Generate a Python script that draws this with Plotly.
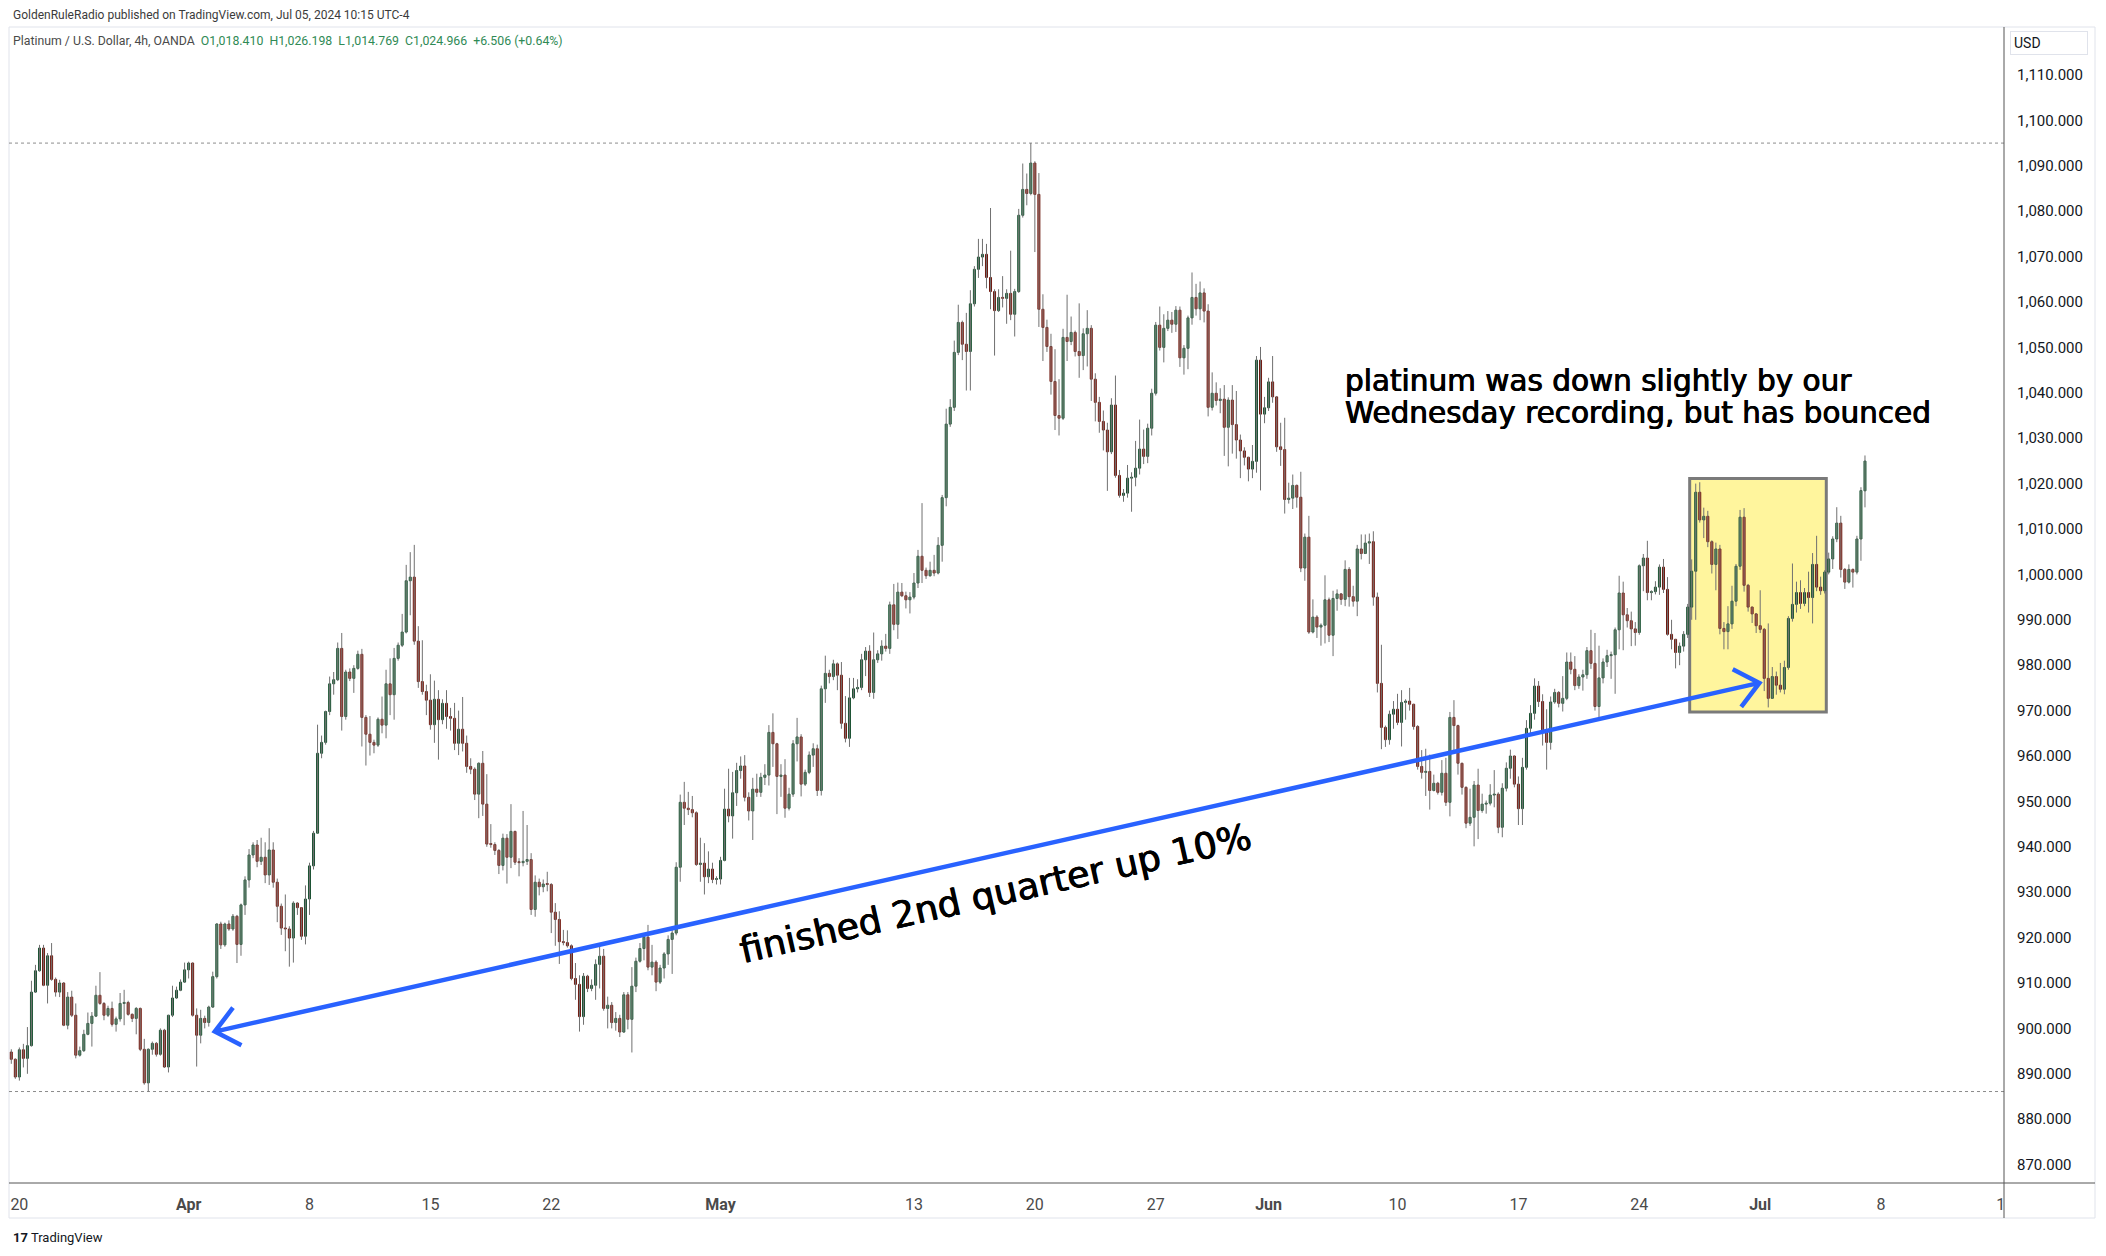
import math
import plotly.graph_objects as go

# ---------------- data (4h candles) ----------------
opens = [
    894.8, 893.2, 889.3, 895.3, 893.4, 896.2, 908.0, 912.7, 917.7, 909.5,
    916.0, 910.8, 908.0, 910.0, 900.7, 906.9, 902.9, 894.1, 895.1, 898.7,
    901.1, 902.7, 907.3, 905.5, 902.9, 904.4, 900.9, 902.1, 905.5, 905.7,
    903.1, 902.2, 904.4, 895.4, 888.0, 895.4, 896.7, 894.3, 899.6, 891.5,
    902.9, 906.7, 908.4, 910.2, 912.9, 914.4, 902.9, 898.5, 902.2, 901.3,
    904.7, 911.4, 923.0, 918.4, 923.0, 921.9, 924.7, 918.5, 927.2, 932.7,
    938.2, 940.4, 936.8, 937.7, 933.8, 939.3, 932.2, 926.9, 922.1, 921.9,
    919.9, 927.6, 926.6, 920.3, 928.5, 935.8, 943.0, 960.6, 963.0, 969.8,
    975.9, 976.8, 983.7, 968.7, 978.5, 977.1, 979.3, 982.4, 968.5, 964.8,
    963.0, 962.4, 968.1, 966.8, 975.9, 973.5, 981.5, 984.4, 987.3, 998.6,
    999.4, 985.3, 976.4, 974.2, 972.3, 966.9, 972.5, 968.0, 971.6, 968.7,
    968.3, 962.8, 965.9, 962.8, 957.7, 957.1, 951.6, 958.4, 949.4, 940.6,
    940.5, 939.2, 935.9, 941.9, 937.7, 943.4, 936.6, 936.5, 936.8, 937.2,
    926.2, 932.2, 931.2, 931.8, 931.7, 925.6, 924.0, 919.1, 918.9, 918.2,
    911.0, 909.7, 902.6, 911.5, 908.8, 909.5, 914.1, 915.9, 904.4, 905.1,
    901.3, 902.2, 899.2, 907.4, 902.0, 909.3, 914.8, 917.6, 920.1, 913.5,
    914.6, 910.2, 913.3, 916.4, 919.6, 921.0, 935.5, 949.8, 948.5, 948.2,
    947.5, 936.1, 936.4, 933.4, 935.1, 932.8, 932.9, 937.0, 948.3, 946.8,
    951.9, 956.8, 957.8, 950.9, 947.9, 952.7, 952.0, 955.3, 955.8, 965.2,
    962.7, 955.5, 955.8, 948.5, 951.6, 962.7, 964.2, 953.8, 956.4, 960.2,
    961.6, 952.4, 974.8, 978.2, 977.5, 980.3, 977.8, 967.2, 963.9, 972.8,
    974.8, 975.1, 981.2, 983.1, 974.0, 981.2, 982.5, 984.2, 983.7, 993.3,
    989.0, 996.1, 995.3, 994.4, 995.0, 998.1, 1004.0, 1000.9, 999.7, 1000.9,
    1000.3, 1006.4, 1016.9, 1033.1, 1036.8, 1048.9, 1055.5, 1050.7, 1049.1, 1059.6,
    1067.2, 1069.9, 1070.5, 1065.4, 1062.3, 1058.1, 1061.0, 1060.8, 1061.9, 1057.3,
    1062.3, 1079.1, 1084.8, 1083.9, 1090.6, 1083.7, 1058.4, 1054.4, 1050.2, 1042.5,
    1035.0, 1034.4, 1052.2, 1051.3, 1053.3, 1049.1, 1048.2, 1053.0, 1054.2, 1043.0,
    1037.9, 1033.7, 1031.8, 1027.0, 1037.3, 1021.8, 1017.4, 1017.9, 1021.2, 1021.4,
    1023.4, 1027.6, 1026.0, 1032.2, 1039.9, 1054.9, 1050.0, 1054.2, 1056.0, 1055.1,
    1058.2, 1047.7, 1049.8, 1056.5, 1061.0, 1058.5, 1062.0, 1058.0, 1036.8, 1039.9,
    1038.3, 1038.6, 1032.4, 1038.4, 1033.0, 1029.6, 1027.2, 1025.8, 1023.2, 1024.9,
    1047.2, 1035.3, 1036.7, 1042.4, 1039.1, 1028.1, 1027.5, 1016.5, 1016.8, 1019.6,
    1017.0, 1001.4, 1008.2, 987.3, 990.6, 988.4, 988.8, 994.4, 986.6, 994.7,
    995.7, 994.5, 1001.1, 995.1, 994.1, 1005.6, 1004.6, 1006.9, 1007.2, 995.0,
    976.0, 966.3, 963.6, 969.2, 970.3, 967.4, 971.8, 972.1, 971.4, 966.5,
    957.7, 956.4, 956.6, 952.4, 954.0, 952.0, 956.2, 949.8, 968.5, 966.7,
    958.4, 953.1, 945.2, 946.5, 953.6, 948.0, 949.4, 949.6, 951.4, 951.6,
    944.3, 952.9, 957.3, 960.0, 953.8, 948.4, 957.5, 966.1, 969.4, 975.4,
    972.0, 965.6, 963.0, 971.9, 974.0, 971.6, 972.7, 980.7, 979.1, 975.5,
    977.4, 977.9, 983.2, 980.4, 970.9, 977.2, 980.7, 982.1, 982.3, 987.8,
    995.9, 991.1, 989.8, 988.0, 987.2, 1001.9, 1003.6, 996.0, 996.2, 997.2,
    1001.6, 996.7, 986.8, 985.7, 982.8, 984.2, 986.8, 992.8, 1000.7, 1018.1,
    1012.0, 1012.8, 1007.2, 1002.2, 1005.6, 988.1, 987.4, 989.1, 994.1, 1001.8,
    1012.6, 997.6, 992.8, 991.3, 988.7, 987.9, 977.1, 972.7, 977.5, 975.6,
    974.7, 979.5, 990.3, 993.4, 996.0, 993.6, 996.0, 994.9, 1002.2, 997.2,
    996.4, 1000.5, 1003.4, 1007.8, 1011.3, 1001.1, 998.3, 1001.1, 1000.5, 1007.8,
    1018.410,
]
highs = [
    895.4, 893.4, 895.8, 896.6, 900.3, 910.5, 914.0, 918.4, 918.4, 916.6,
    918.8, 911.2, 910.7, 910.2, 908.0, 908.3, 905.5, 896.0, 899.7, 903.5,
    903.6, 909.4, 912.4, 905.8, 905.0, 905.9, 902.6, 907.8, 908.5, 906.1,
    903.3, 904.7, 904.6, 897.7, 895.6, 897.1, 897.0, 900.0, 899.9, 903.0,
    909.4, 909.2, 910.8, 914.5, 914.7, 914.5, 904.4, 904.1, 902.8, 905.0,
    912.5, 923.2, 923.5, 923.3, 923.8, 925.2, 925.0, 927.5, 933.5, 939.5,
    941.0, 941.5, 942.0, 941.0, 944.1, 941.0, 933.0, 927.5, 929.5, 922.5,
    928.0, 927.8, 926.7, 931.5, 936.5, 943.5, 966.9, 964.5, 970.0, 977.5,
    978.5, 985.0, 987.1, 979.0, 979.3, 980.0, 983.2, 983.6, 969.0, 968.8,
    963.6, 968.5, 973.1, 979.0, 981.5, 983.8, 985.0, 991.3, 1002.1, 1004.9,
    1006.5, 988.6, 985.5, 975.7, 978.0, 976.6, 974.5, 972.5, 974.5, 970.6,
    971.7, 970.0, 973.0, 964.5, 959.5, 957.5, 958.6, 961.1, 956.0, 945.0,
    941.0, 939.5, 942.9, 942.8, 949.4, 943.5, 937.5, 947.9, 944.8, 938.6,
    933.7, 933.0, 932.8, 934.5, 932.0, 927.6, 925.8, 921.7, 921.6, 918.5,
    914.4, 911.7, 912.2, 911.8, 910.8, 915.2, 918.5, 917.5, 907.0, 905.8,
    903.6, 903.0, 908.0, 908.0, 913.5, 915.6, 918.8, 920.6, 922.8, 918.4,
    915.0, 914.0, 916.8, 920.5, 922.0, 936.6, 951.5, 954.3, 952.1, 951.2,
    947.8, 942.0, 940.8, 939.0, 936.5, 933.5, 937.8, 952.8, 957.2, 956.5,
    958.5, 959.9, 960.2, 952.0, 955.2, 956.1, 956.3, 958.2, 966.8, 969.4,
    962.9, 958.2, 959.3, 953.0, 963.5, 968.4, 964.8, 957.0, 961.0, 962.8,
    962.5, 975.5, 982.1, 979.0, 981.2, 980.6, 980.7, 973.2, 977.2, 977.2,
    976.9, 982.5, 984.0, 984.4, 987.2, 983.3, 985.5, 986.9, 994.0, 997.9,
    998.2, 998.1, 996.2, 996.1, 1000.3, 1005.4, 1015.7, 1001.5, 1002.8, 1004.3,
    1008.2, 1017.5, 1036.5, 1038.6, 1051.5, 1059.4, 1055.9, 1057.6, 1062.6, 1067.9,
    1073.9, 1073.9, 1072.8, 1080.7, 1062.8, 1062.8, 1065.7, 1062.8, 1071.3, 1062.9,
    1080.5, 1090.5, 1088.3, 1095.0, 1091.0, 1088.4, 1061.7, 1056.1, 1053.0, 1049.6,
    1043.0, 1054.1, 1061.6, 1056.8, 1053.7, 1059.7, 1054.2, 1058.2, 1054.9, 1044.3,
    1039.1, 1036.1, 1033.4, 1038.8, 1043.8, 1023.0, 1018.8, 1024.1, 1022.5, 1029.4,
    1034.1, 1031.9, 1033.2, 1040.9, 1055.6, 1059.0, 1057.3, 1058.0, 1057.8, 1059.1,
    1059.0, 1050.5, 1057.0, 1066.5, 1064.0, 1064.5, 1063.0, 1059.5, 1044.5, 1042.3,
    1041.0, 1041.7, 1039.0, 1041.7, 1040.4, 1030.8, 1028.0, 1025.9, 1028.5, 1048.1,
    1050.1, 1039.1, 1043.3, 1048.1, 1039.3, 1033.4, 1034.5, 1020.2, 1022.0, 1019.8,
    1022.6, 1009.0, 1012.9, 994.5, 991.0, 989.2, 999.8, 994.9, 996.4, 996.7,
    995.9, 1003.1, 1001.6, 997.5, 1006.5, 1008.8, 1008.8, 1009.0, 1009.5, 996.0,
    984.5, 966.7, 970.0, 972.1, 973.7, 974.5, 972.5, 975.0, 971.5, 966.8,
    961.3, 961.6, 960.3, 955.9, 954.3, 959.1, 959.6, 969.7, 972.3, 966.9,
    958.5, 953.3, 952.8, 954.5, 957.2, 951.7, 950.2, 953.8, 956.9, 952.0,
    954.0, 958.6, 961.4, 960.1, 955.5, 959.6, 967.9, 971.2, 977.1, 976.5,
    973.6, 970.3, 973.1, 974.8, 974.3, 977.6, 982.8, 982.8, 982.0, 978.0,
    979.0, 984.0, 987.8, 987.1, 984.3, 981.5, 983.4, 983.0, 988.3, 999.7,
    998.4, 992.6, 991.8, 989.5, 1002.2, 1004.5, 1007.4, 996.5, 998.5, 1002.2,
    1003.4, 999.4, 990.0, 985.8, 985.0, 987.5, 993.5, 1003.3, 1020.0, 1020.3,
    1014.7, 1014.0, 1007.5, 1007.0, 1006.5, 989.5, 993.0, 997.5, 1002.3, 1014.2,
    1014.6, 997.9, 992.9, 991.5, 996.5, 988.2, 989.2, 979.6, 978.6, 980.5,
    981.0, 990.8, 1002.4, 998.4, 998.7, 997.0, 1000.6, 1004.7, 1008.5, 999.5,
    1000.9, 1004.8, 1008.4, 1014.8, 1012.9, 1001.4, 1002.2, 1001.3, 1008.5, 1019.2,
    1026.198,
]
lows = [
    892.2, 888.9, 888.5, 891.4, 890.0, 896.0, 907.8, 912.5, 909.3, 905.5,
    910.5, 907.0, 906.9, 900.5, 899.8, 902.5, 893.4, 893.8, 894.8, 898.5,
    896.0, 902.5, 905.2, 901.8, 902.5, 900.4, 899.3, 901.5, 900.7, 902.8,
    901.4, 898.7, 895.0, 887.6, 886.1, 894.2, 893.8, 894.0, 891.3, 890.3,
    902.5, 906.5, 908.2, 910.0, 911.0, 902.6, 891.6, 896.7, 900.0, 900.4,
    904.5, 911.0, 917.5, 918.0, 921.5, 921.5, 914.4, 916.0, 925.0, 931.0,
    937.5, 935.5, 936.0, 932.0, 931.6, 931.0, 923.4, 920.6, 917.0, 913.6,
    914.5, 925.0, 919.5, 918.5, 925.0, 935.0, 943.0, 959.5, 962.5, 969.0,
    973.5, 976.5, 965.6, 968.0, 976.5, 973.9, 979.0, 962.1, 957.9, 960.1,
    960.6, 962.0, 965.0, 963.9, 969.0, 968.0, 981.0, 984.0, 987.0, 991.0,
    984.5, 975.0, 973.5, 969.0, 965.8, 962.9, 959.2, 967.0, 966.0, 965.6,
    961.3, 960.2, 961.0, 956.3, 956.0, 950.3, 946.3, 946.8, 940.0, 939.8,
    938.2, 934.0, 934.8, 931.9, 935.3, 936.0, 933.5, 935.7, 936.0, 925.0,
    924.6, 929.3, 930.0, 930.2, 921.0, 918.2, 914.2, 918.3, 917.8, 910.6,
    906.3, 899.3, 900.8, 908.0, 908.2, 906.3, 908.8, 903.9, 900.0, 900.0,
    899.5, 898.1, 899.0, 899.8, 894.7, 908.0, 914.5, 915.0, 912.8, 911.7,
    908.2, 909.8, 911.0, 914.0, 912.0, 920.5, 932.3, 944.8, 947.0, 946.5,
    935.8, 932.3, 929.5, 932.0, 932.0, 931.7, 931.7, 936.8, 945.4, 941.8,
    949.0, 955.0, 950.0, 945.8, 941.5, 951.0, 951.0, 953.6, 953.5, 957.6,
    947.2, 951.0, 946.4, 948.0, 951.0, 958.8, 951.1, 953.4, 956.0, 957.6,
    951.2, 951.3, 971.7, 976.0, 976.7, 974.5, 966.0, 963.0, 962.0, 972.5,
    974.0, 974.5, 977.6, 973.0, 972.6, 980.5, 981.0, 983.0, 982.5, 987.7,
    985.8, 995.0, 992.5, 991.4, 994.5, 997.0, 998.1, 999.0, 999.5, 999.6,
    1000.0, 1002.8, 1015.0, 1032.5, 1036.0, 1048.3, 1047.2, 1040.5, 1040.5, 1059.0,
    1065.3, 1067.9, 1063.0, 1058.4, 1048.2, 1057.8, 1058.8, 1055.2, 1056.0, 1052.4,
    1062.0, 1078.6, 1081.3, 1083.5, 1071.0, 1054.5, 1047.0, 1049.0, 1039.6, 1031.8,
    1030.6, 1034.0, 1047.0, 1050.5, 1048.0, 1043.3, 1045.0, 1045.8, 1038.2, 1033.7,
    1031.2, 1027.3, 1018.4, 1026.5, 1021.3, 1016.9, 1016.0, 1016.9, 1013.8, 1019.4,
    1022.0, 1024.3, 1024.5, 1030.6, 1039.4, 1049.3, 1046.7, 1053.6, 1053.2, 1053.4,
    1045.7, 1044.0, 1045.2, 1055.0, 1057.0, 1056.0, 1055.5, 1034.8, 1036.1, 1037.2,
    1035.5, 1026.1, 1023.8, 1026.6, 1025.5, 1021.2, 1024.0, 1020.5, 1021.2, 1022.4,
    1018.5, 1033.3, 1036.0, 1037.8, 1027.0, 1023.9, 1013.4, 1015.6, 1014.4, 1014.7,
    1000.5, 998.6, 986.9, 987.0, 986.0, 984.3, 984.8, 985.1, 982.0, 992.0,
    993.3, 993.0, 992.9, 992.9, 990.8, 1003.3, 1004.5, 1002.3, 993.1, 974.0,
    961.5, 962.0, 962.5, 966.0, 966.8, 962.1, 968.0, 970.0, 965.8, 957.0,
    955.0, 951.2, 948.2, 952.2, 951.5, 951.3, 949.0, 946.7, 961.2, 955.9,
    951.5, 944.1, 944.6, 940.1, 941.7, 947.5, 947.3, 949.1, 948.7, 943.0,
    942.1, 952.2, 955.0, 953.1, 944.8, 944.8, 957.0, 965.0, 968.0, 970.8,
    962.3, 957.0, 961.4, 971.5, 970.7, 969.8, 972.3, 978.0, 974.5, 974.8,
    974.4, 977.0, 979.2, 970.0, 967.8, 976.0, 979.6, 977.0, 973.7, 983.5,
    983.3, 988.3, 984.2, 984.3, 986.7, 996.3, 994.3, 994.3, 995.6, 995.5,
    995.9, 986.5, 983.5, 979.3, 980.0, 983.0, 986.0, 990.0, 990.0, 1011.4,
    1008.0, 1006.0, 1000.2, 996.5, 986.8, 983.5, 983.5, 988.0, 993.0, 1001.0,
    996.2, 991.8, 989.3, 987.1, 987.1, 974.3, 970.7, 972.6, 973.5, 974.0,
    973.6, 979.0, 989.6, 991.6, 992.4, 993.0, 991.6, 989.2, 996.3, 995.5,
    995.8, 1000.0, 1001.2, 1007.1, 999.3, 996.8, 998.0, 997.1, 1000.0, 1003.0,
    1014.769,
]
closes = [
    893.2, 889.3, 895.3, 893.4, 896.2, 908.0, 912.7, 917.7, 909.5, 916.0,
    910.8, 908.0, 910.0, 900.7, 906.9, 902.9, 894.1, 895.1, 898.7, 901.1,
    902.7, 907.3, 905.5, 902.9, 904.4, 900.9, 902.1, 905.5, 905.7, 903.1,
    902.2, 904.4, 895.4, 888.0, 895.4, 896.7, 894.3, 899.6, 891.5, 902.9,
    906.7, 908.4, 910.2, 912.9, 914.4, 902.9, 898.5, 902.2, 901.3, 904.7,
    911.4, 923.0, 918.4, 923.0, 921.9, 924.7, 918.5, 927.2, 932.7, 938.2,
    940.4, 936.8, 937.7, 933.8, 939.3, 932.2, 926.9, 922.1, 921.9, 919.9,
    927.6, 926.6, 920.3, 928.5, 935.8, 943.0, 960.6, 963.0, 969.8, 975.9,
    976.8, 983.7, 968.7, 978.5, 977.1, 979.3, 982.4, 968.5, 964.8, 963.0,
    962.4, 968.1, 966.8, 975.9, 973.5, 981.5, 984.4, 987.3, 998.6, 999.4,
    985.3, 976.4, 974.2, 972.3, 966.9, 972.5, 968.0, 971.6, 968.7, 968.3,
    962.8, 965.9, 962.8, 957.7, 957.1, 951.6, 958.4, 949.4, 940.6, 940.5,
    939.2, 935.9, 941.9, 937.7, 943.4, 936.6, 936.5, 936.8, 937.2, 926.2,
    932.2, 931.2, 931.8, 931.7, 925.6, 924.0, 919.1, 918.9, 918.2, 911.0,
    909.7, 902.6, 911.5, 908.8, 909.5, 914.1, 915.9, 904.4, 905.1, 901.3,
    902.2, 899.2, 907.4, 902.0, 909.3, 914.8, 917.6, 920.1, 913.5, 914.6,
    910.2, 913.3, 916.4, 919.6, 921.0, 935.5, 949.8, 948.5, 948.2, 947.5,
    936.1, 936.4, 933.4, 935.1, 932.8, 932.9, 937.0, 948.3, 946.8, 951.9,
    956.8, 957.8, 950.9, 947.9, 952.7, 952.0, 955.3, 955.8, 965.2, 962.7,
    955.5, 955.8, 948.5, 951.6, 962.7, 964.2, 953.8, 956.4, 960.2, 961.6,
    952.4, 974.8, 978.2, 977.5, 980.3, 977.8, 967.2, 963.9, 972.8, 974.8,
    975.1, 981.2, 983.1, 974.0, 981.2, 982.5, 984.2, 983.7, 993.3, 989.0,
    996.1, 995.3, 994.4, 995.0, 998.1, 1004.0, 1000.9, 999.7, 1000.9, 1000.3,
    1006.4, 1016.9, 1033.1, 1036.8, 1048.9, 1055.5, 1050.7, 1049.1, 1059.6, 1067.2,
    1069.9, 1070.5, 1065.4, 1062.3, 1058.1, 1061.0, 1060.8, 1061.9, 1057.3, 1062.3,
    1079.1, 1084.8, 1083.9, 1090.6, 1083.7, 1058.4, 1054.4, 1050.2, 1042.5, 1035.0,
    1034.4, 1052.2, 1051.3, 1053.3, 1049.1, 1048.2, 1053.0, 1054.2, 1043.0, 1037.9,
    1033.7, 1031.8, 1027.0, 1037.3, 1021.8, 1017.4, 1017.9, 1021.2, 1021.4, 1023.4,
    1027.6, 1026.0, 1032.2, 1039.9, 1054.9, 1050.0, 1054.2, 1056.0, 1055.1, 1058.2,
    1047.7, 1049.8, 1056.5, 1061.0, 1058.5, 1062.0, 1058.0, 1036.8, 1039.9, 1038.3,
    1038.6, 1032.4, 1038.4, 1033.0, 1029.6, 1027.2, 1025.8, 1023.2, 1024.9, 1047.2,
    1035.3, 1036.7, 1042.4, 1039.1, 1028.1, 1027.5, 1016.5, 1016.8, 1019.6, 1017.0,
    1001.4, 1008.2, 987.3, 990.6, 988.4, 988.8, 994.4, 986.6, 994.7, 995.7,
    994.5, 1001.1, 995.1, 994.1, 1005.6, 1004.6, 1006.9, 1007.2, 995.0, 976.0,
    966.3, 963.6, 969.2, 970.3, 967.4, 971.8, 972.1, 971.4, 966.5, 957.7,
    956.4, 956.6, 952.4, 954.0, 952.0, 956.2, 949.8, 968.5, 966.7, 958.4,
    953.1, 945.2, 946.5, 953.6, 948.0, 949.4, 949.6, 951.4, 951.6, 944.3,
    952.9, 957.3, 960.0, 953.8, 948.4, 957.5, 966.1, 969.4, 975.4, 972.0,
    965.6, 963.0, 971.9, 974.0, 971.6, 972.7, 980.7, 979.1, 975.5, 977.4,
    977.9, 983.2, 980.4, 970.9, 977.2, 980.7, 982.1, 982.3, 987.8, 995.9,
    991.1, 989.8, 988.0, 987.2, 1001.9, 1003.6, 996.0, 996.2, 997.2, 1001.6,
    996.7, 986.8, 985.7, 982.8, 984.2, 986.8, 992.8, 1000.7, 1018.1, 1012.0,
    1012.8, 1007.2, 1002.2, 1005.6, 988.1, 987.4, 989.1, 994.1, 1001.8, 1012.6,
    997.6, 992.8, 991.3, 988.7, 987.9, 977.1, 972.7, 977.5, 975.6, 974.7,
    979.5, 990.3, 993.4, 996.0, 993.6, 996.0, 994.9, 1002.2, 997.2, 996.4,
    1000.5, 1003.4, 1007.8, 1011.3, 1001.1, 998.3, 1001.1, 1000.5, 1007.8, 1018.46,
    1024.966,
]
candle_idx = list(range(len(closes)))

# x-axis day labels (candle index where the label sits)
tick_pos = [2, 44, 74, 104, 134, 176, 224, 254, 284, 312, 344, 374, 404, 434, 464, 493.7]
tick_labels = ["20", "<b>Apr</b>", "8", "15", "22", "<b>May</b>", "13", "20", "27",
               "<b>Jun</b>", "10", "17", "24", "<b>Jul</b>", "8", "1"]
price_ticks = [870, 880, 890, 900, 910, 920, 930, 940, 950, 960, 970, 980, 990, 1000,
               1010, 1020, 1030, 1040, 1050, 1060, 1070, 1080, 1090, 1100, 1110]

# drawings (data coordinates: candle index, price)
arrow_left_tip = (50.5, 899.3)
arrow_right_tip = (433.8, 976.1)
box_x = (416.5, 450.4)
box_y = (969.7, 1021.1)
note_top_lines = ["platinum was down slightly by our", "Wednesday recording, but has bounced"]
note_top_x = 330.4
note_top_y = [1042.6, 1035.5]
note_line = "finished 2nd quarter up 10%"
note_line_pos = (244.2, 929.8)

header_text = "GoldenRuleRadio published on TradingView.com, Jul 05, 2024 10:15 UTC-4"
symbol_text = "Platinum / U.S. Dollar, 4h, OANDA"

# ---------------- layout geometry ----------------
W, H = 2106, 1256
ML, MR, MT, MB = 9, 102, 27, 73
PW, PH = W - ML - MR, H - MT - MB
X_RANGE = [-0.57, 494.5]
Y_RANGE = [865.95, 1120.57]
SX = PW / (X_RANGE[1] - X_RANGE[0])
SY = PH / (Y_RANGE[1] - Y_RANGE[0])


def xp(px):
    return (px - ML) / PW


def yp(py):
    return (H - MB - py) / PH


GREEN_FILL, GREEN_EDGE = "#4a9a68", "#1d5234"
RED_FILL, RED_EDGE = "#cf3a2a", "#6e1b12"
WICK = "#707070"
BLUE = "#2962ff"
UI_FONT = "Roboto"
NOTE_SHADOW = "0.45px 0 0 #000, -0.45px 0 0 #000"

fig = go.Figure()

# wicks
wx, wy = [], []
for i, h, l in zip(candle_idx, highs, lows):
    wx += [i, i, None]
    wy += [l, h, None]
fig.add_trace(go.Scatter(x=wx, y=wy, mode="lines", line=dict(color=WICK, width=1),
                         hoverinfo="skip", showlegend=False))

# bodies
base = [min(o, c) for o, c in zip(opens, closes)]
body = [max(abs(c - o), 0.22) for o, c in zip(opens, closes)]
up = [c >= o for o, c in zip(opens, closes)]
fig.add_trace(go.Bar(
    x=candle_idx, y=body, base=base, width=0.5,
    marker=dict(color=[GREEN_FILL if u else RED_FILL for u in up],
                line=dict(color=[GREEN_EDGE if u else RED_EDGE for u in up], width=1)),
    hoverinfo="skip", showlegend=False))

shapes = []
# pane frame
shapes.append(dict(type="rect", xref="paper", yref="paper", x0=xp(ML), x1=xp(2095),
                   y0=yp(1218), y1=yp(MT), line=dict(color="#e0e3eb", width=1), layer="below"))
# axis lines
shapes.append(dict(type="line", xref="paper", yref="paper", x0=xp(ML), x1=xp(2095),
                   y0=0, y1=0, line=dict(color="#555555", width=1)))
shapes.append(dict(type="line", xref="paper", yref="paper", x0=1, x1=1,
                   y0=yp(1218), y1=yp(MT), line=dict(color="#555555", width=1)))
# dotted high / low lines
for lvl in (max(highs), min(lows)):
    shapes.append(dict(type="line", xref="paper", yref="y", x0=0, x1=1, y0=lvl, y1=lvl,
                       line=dict(color="#8c8c8c", width=1, dash="dot"), layer="below"))
# highlighted box
shapes.append(dict(type="rect", xref="x", yref="y", x0=box_x[0], x1=box_x[1],
                   y0=box_y[0], y1=box_y[1], fillcolor="#fff59d",
                   line=dict(color="#7a7a7a", width=3), layer="below"))


def arms(tip, other, length=30, ang=40):
    dx = (other[0] - tip[0]) * SX
    dy = -(other[1] - tip[1]) * SY
    n = math.hypot(dx, dy)
    ux, uy = dx / n, dy / n
    out = []
    for a in (ang, -ang):
        r = math.radians(a)
        vx = ux * math.cos(r) - uy * math.sin(r)
        vy = ux * math.sin(r) + uy * math.cos(r)
        out.append((tip[0] + vx * length / SX, tip[1] - vy * length / SY))
    return out


la = arms(arrow_left_tip, arrow_right_tip)
ra = arms(arrow_right_tip, arrow_left_tip)
L, R = arrow_left_tip, arrow_right_tip
path = (f"M {la[0][0]},{la[0][1]} L {L[0]},{L[1]} L {la[1][0]},{la[1][1]} "
        f"M {L[0]},{L[1]} L {R[0]},{R[1]} "
        f"M {ra[0][0]},{ra[0][1]} L {R[0]},{R[1]} L {ra[1][0]},{ra[1][1]}")
shapes.append(dict(type="path", xref="x", yref="y", path=path,
                   line=dict(color=BLUE, width=4.5)))

ang = -math.degrees(math.atan2((R[1] - L[1]) * SY, (R[0] - L[0]) * SX))

chg = closes[-1] - closes[-2]
pct = chg / closes[-2] * 100
nb = "\u00a0\u00a0"
ohlc = (f"O{opens[-1]:,.3f}{nb}H{highs[-1]:,.3f}{nb}L{lows[-1]:,.3f}{nb}"
        f"C{closes[-1]:,.3f}{nb}{chg:+.3f} ({pct:+.2f}%)")

annotations = [
    dict(xref="paper", yref="paper", x=xp(11), y=yp(15), xanchor="left", yanchor="middle",
         text=header_text, showarrow=False, font=dict(family=UI_FONT, size=12, color="#3b3b3b")),
    dict(xref="paper", yref="paper", x=xp(11), y=yp(41), xanchor="left", yanchor="middle",
         text=f"{symbol_text}{nb}<span style='color:#2f8a55'>{ohlc}</span>", showarrow=False,
         font=dict(family=UI_FONT, size=12.3, color="#4a4a4a")),
    dict(xref="paper", yref="paper", x=xp(2010), y=yp(43.5), xanchor="left", yanchor="middle",
         text="USD", showarrow=False, width=70, align="left", borderpad=3,
         bordercolor="#e0e3eb", borderwidth=1,
         font=dict(family=UI_FONT, size=14, color="#131722")),
    dict(xref="paper", yref="paper", x=xp(11), y=yp(1237), xanchor="left", yanchor="middle",
         text="<b>17</b> TradingView", showarrow=False,
         font=dict(family=UI_FONT, size=13, color="#131722")),
    dict(xref="x", yref="y", x=note_line_pos[0], y=note_line_pos[1], xanchor="center",
         yanchor="middle", text=note_line, showarrow=False, textangle=ang,
         font=dict(family="DejaVu Sans", size=36.5, color="#000000", shadow=NOTE_SHADOW)),
]
for txt, yv in zip(note_top_lines, note_top_y):
    annotations.append(dict(xref="x", yref="y", x=note_top_x, y=yv, xanchor="left",
                            yanchor="middle", align="left", text=txt, showarrow=False,
                            font=dict(family="DejaVu Sans", size=29.5, color="#000000",
                                      shadow=NOTE_SHADOW)))

fig.update_layout(
    width=W, height=H, autosize=False,
    margin=dict(l=ML, r=MR, t=MT, b=MB, pad=0),
    paper_bgcolor="white", plot_bgcolor="white",
    barmode="overlay", showlegend=False, hovermode=False,
    shapes=shapes, annotations=annotations,
    xaxis=dict(range=X_RANGE, tickmode="array", tickvals=tick_pos, ticktext=tick_labels,
               showgrid=False, zeroline=False, showline=False, ticks="outside", ticklen=7,
               tickcolor="rgba(0,0,0,0)",
               tickfont=dict(family=UI_FONT, size=16, color="#4a4a4a"), fixedrange=True),
    yaxis=dict(range=Y_RANGE, side="right", tickmode="array", tickvals=price_ticks,
               tickformat=",.3f", showgrid=False, zeroline=False, showline=False,
               ticks="outside", ticklen=9, tickcolor="rgba(0,0,0,0)",
               tickfont=dict(family=UI_FONT, size=15, color="#131722"), fixedrange=True),
)

fig.write_html("out.html", config={"displayModeBar": False})
